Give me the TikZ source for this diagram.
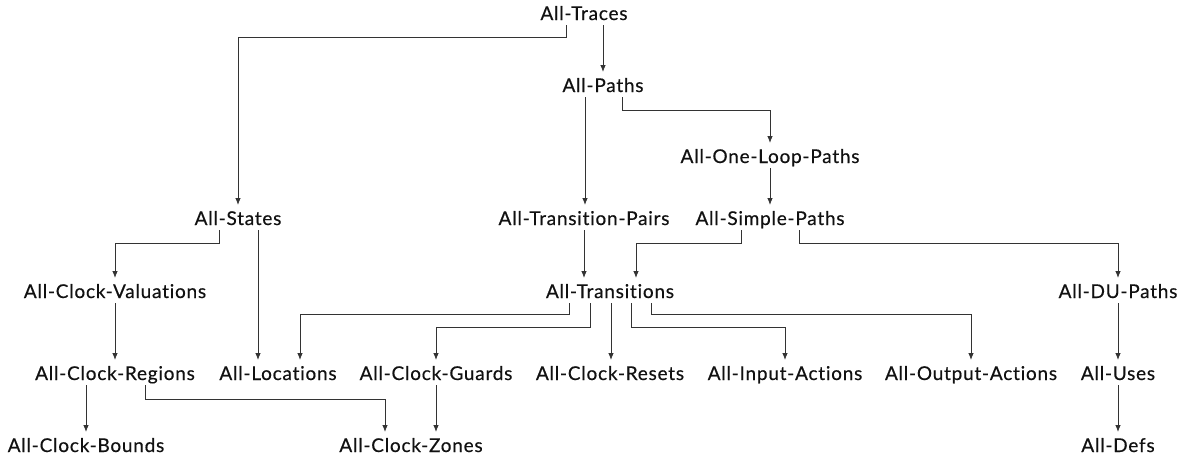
\documentclass[tikz,border=0pt]{standalone}
\usepackage{fontspec}
\setmainfont{Lato}[Ligatures=NoCommon, LetterSpace=4, FakeBold=0.4]
\usetikzlibrary{arrows.meta}
\definecolor{linegray}{HTML}{333333}
\definecolor{textink}{HTML}{111111}
\begin{document}
\begin{tikzpicture}[x=1pt,y=-1pt,
  crit/.style={anchor=base, inner sep=0pt, outer sep=2pt,
    text height=18pt, text depth=3pt, text=textink,
    font=\fontsize{19}{21}\selectfont},
  edge/.style={draw=linegray, line width=0.8pt,
    -{Latex[length=7pt,width=5.5pt]}}]
\useasboundingbox (0,0) rectangle (1187,461);

% coverage criteria
\node[crit] (trac) at (584,20)  {All-Traces};
\node[crit] (path) at (603,92)  {All-Paths};
\node[crit] (loop) at (770,163) {All-One-Loop-Paths};
\node[crit] (stat) at (238,225) {All-States};
\node[crit] (tpar) at (584,225) {All-Transition-Pairs};
\node[crit] (simp) at (770,225) {All-Simple-Paths};
\node[crit] (cval) at (115,298) {All-Clock-Valuations};
\node[crit] (tran) at (610,298) {All-Transitions};
\node[crit] (dupa) at (1118,298) {All-DU-Paths};
\node[crit] (creg) at (115,380) {All-Clock-Regions};
\node[crit] (loca) at (278,380) {All-Locations};
\node[crit] (cgrd) at (436,380) {All-Clock-Guards};
\node[crit] (cres) at (610,380) {All-Clock-Resets};
\node[crit] (inpa) at (785,380) {All-Input-Actions};
\node[crit] (outa) at (971,380) {All-Output-Actions};
\node[crit] (uses) at (1118,380) {All-Uses};
\node[crit] (cbnd) at (86,452)  {All-Clock-Bounds};
\node[crit] (czon) at (411,452) {All-Clock-Zones};
\node[crit] (defs) at (1118,452) {All-Defs};

% subsumption edges
\draw[edge] (trac.south -| 566,0) |- (stat.north |- 0,37) -- (stat.north);
\draw[edge] (trac.south -| 603,0) -- (path.north -| 603,0);
\draw[edge] (path.south -| 585,0) -- (tpar.north -| 585,0);
\draw[edge] (path.south -| 622,0) |- (loop.north |- 0,110) -- (loop.north);
\draw[edge] (loop.south) -- (simp.north);
\draw[edge] (tpar.south -| 584,0) -- (tran.north -| 584,0);
\draw[edge] (simp.south -| 741,0) |- (636,243) -- (tran.north -| 636,0);
\draw[edge] (simp.south -| 799,0) |- (dupa.north |- 0,243) -- (dupa.north);
\draw[edge] (stat.south -| 219,0) |- (cval.north |- 0,243) -- (cval.north);
\draw[edge] (stat.south -| 258,0) -- (loca.north -| 258,0);
\draw[edge] (cval.south) -- (creg.north);
\draw[edge] (tran.south -| 569,0) |- (300,314) -- (loca.north -| 300,0);
\draw[edge] (tran.south -| 590,0) |- (cgrd.north |- 0,327) -- (cgrd.north);
\draw[edge] (tran.south -| 611,0) -- (cres.north -| 611,0);
\draw[edge] (tran.south -| 631,0) |- (inpa.north |- 0,327) -- (inpa.north);
\draw[edge] (tran.south -| 651,0) |- (outa.north |- 0,314) -- (outa.north);
\draw[edge] (dupa.south) -- (uses.north);
\draw[edge] (creg.south -| 86,0) -- (cbnd.north);
\draw[edge] (creg.south -| 145,0) |- (385,399) -- (czon.north -| 385,0);
\draw[edge] (cgrd.south -| 436,0) -- (czon.north -| 436,0);
\draw[edge] (uses.south) -- (defs.north);
\end{tikzpicture}
\end{document}
